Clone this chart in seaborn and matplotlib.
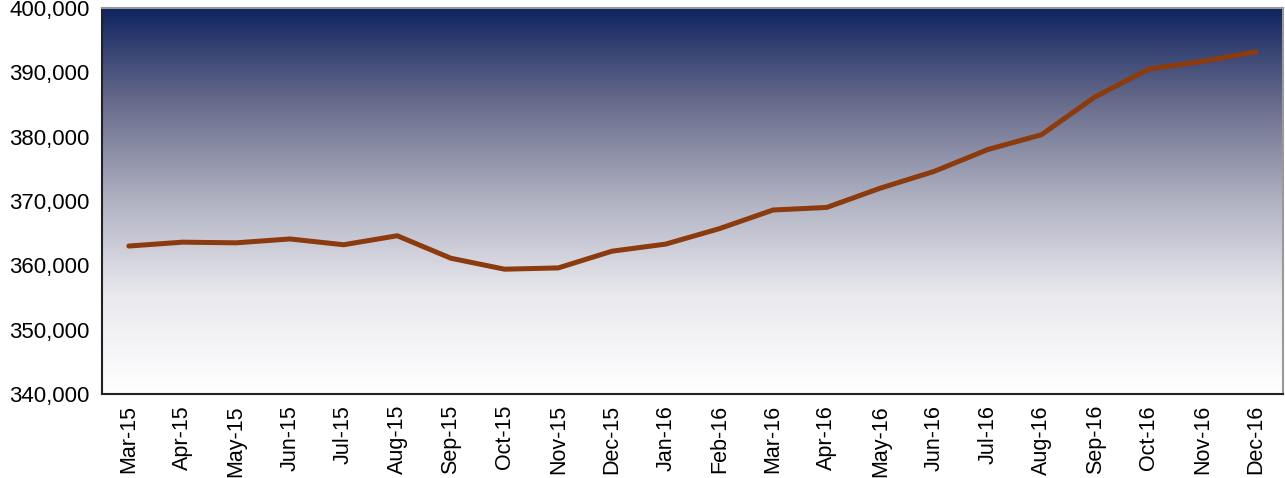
import numpy as np
import pandas as pd
import matplotlib
matplotlib.use("Agg")
import matplotlib.pyplot as plt
import seaborn as sns
from matplotlib.colors import LinearSegmentedColormap
from matplotlib.ticker import FuncFormatter, FixedLocator

months = ["Mar-15", "Apr-15", "May-15", "Jun-15", "Jul-15", "Aug-15", "Sep-15",
          "Oct-15", "Nov-15", "Dec-15", "Jan-16", "Feb-16", "Mar-16", "Apr-16",
          "May-16", "Jun-16", "Jul-16", "Aug-16", "Sep-16", "Oct-16", "Nov-16",
          "Dec-16"]
values = [363000, 363600, 363500, 364100, 363200, 364600, 361100, 359400,
          359600, 362200, 363300, 365700, 368600, 369000, 372000, 374600,
          378000, 380300, 386200, 390500, 391700, 393200]
y_ticks = [340000, 350000, 360000, 370000, 380000, 390000, 400000]

sns.set_theme(style="white")
plt.rcParams['font.family'] = ['Liberation Sans', 'DejaVu Sans']

fig = plt.figure(figsize=(12.85, 4.78), dpi=100)
ax = fig.add_axes([102/1285, 1-394/478, (1283-102)/1285, (394-8)/478])

# gradient background
cmap = LinearSegmentedColormap.from_list(
    "bg", [(0.0, "#ffffff"), (0.25, "#eaeaef"), (0.5, "#b0b2c2"),
           (0.76, "#666a8a"), (1.0, "#0f2360")])
grad = np.linspace(0, 1, 256).reshape(-1, 1)
ax.imshow(grad, cmap=cmap, aspect="auto", extent=[0, 1, 0, 1],
          transform=ax.transAxes, origin="lower", zorder=0)

df = pd.DataFrame({"month": months, "value": values})
df["idx"] = np.arange(len(months))
sns.lineplot(data=df, x="idx", y="value", ax=ax, color="#8b3b0e",
             linewidth=3.6, zorder=3, solid_capstyle="round",
             solid_joinstyle="round")

ax.set_xlim(-0.5, len(months) - 0.5)
ax.set_ylim(340000, 400000)
ax.set_xlabel("")
ax.set_ylabel("")

ax.yaxis.set_major_locator(FixedLocator(y_ticks))
ax.yaxis.set_major_formatter(FuncFormatter(lambda v, p: f"{int(v):,}"))

ax.set_xticks(np.arange(len(months)))
ax.set_xticklabels(months, rotation=90)
ax.set_xticks(np.arange(len(months) + 1) - 0.5, minor=True)
ax.tick_params(axis="x", which="major", length=0, pad=8, labelsize=15.5,
               colors="black")
ax.tick_params(axis="x", which="minor", length=10, width=1.2,
               direction="inout", colors="#333333")
ax.tick_params(axis="y", which="major", length=10, width=1.2,
               direction="inout", labelsize=16, pad=4, colors="black")

for s in ["left", "bottom"]:
    ax.spines[s].set_color("#222222")
    ax.spines[s].set_linewidth(1.5)
for s in ["top", "right"]:
    ax.spines[s].set_color("#999999")
    ax.spines[s].set_linewidth(1.5)

fig.savefig("out.png", dpi=100)
